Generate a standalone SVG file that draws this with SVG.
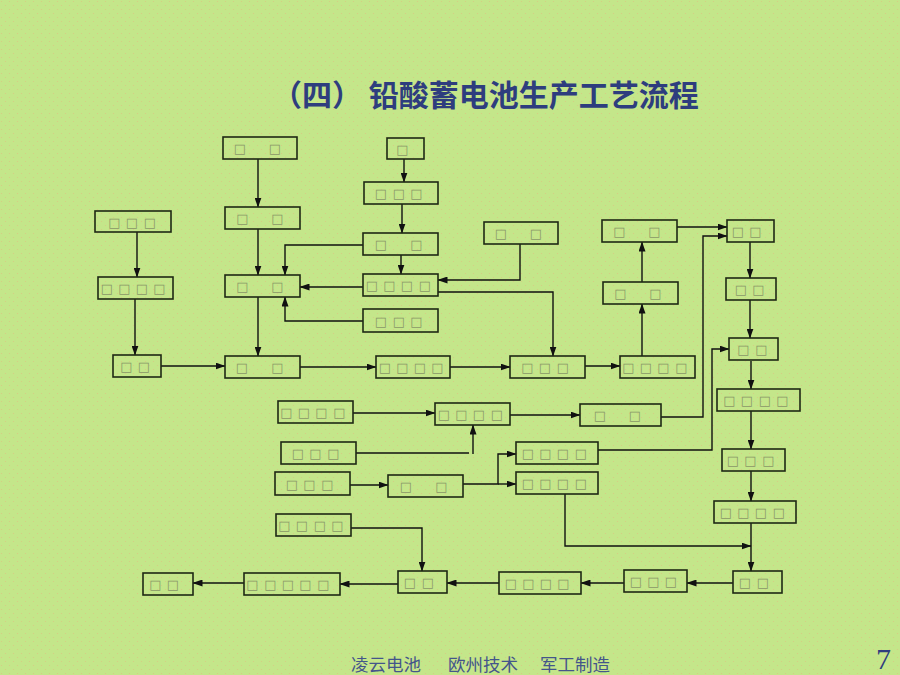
<svg xmlns="http://www.w3.org/2000/svg" width="900" height="675" viewBox="0 0 900 675">
<defs>
<pattern id="dots" width="8" height="8" patternUnits="userSpaceOnUse">
<circle cx="1.5" cy="1.5" r="0.6" fill="#E8B07E" opacity="0.55"/>
<circle cx="5.5" cy="5.5" r="0.6" fill="#E8B07E" opacity="0.55"/>
</pattern>
<marker id="ah" markerUnits="userSpaceOnUse" markerWidth="10" markerHeight="7" refX="9.5" refY="3.5" orient="auto">
<path d="M0,0 L10,3.5 L0,7 Z" fill="#111"/>
</marker>
<style>
.b{fill:none;stroke:#1E2814;stroke-width:1.6}
.q{font-family:"DejaVu Sans",sans-serif;font-size:13px;fill:#8A9868;text-anchor:middle}
.c{fill:none;stroke:#111;stroke-width:1.4}
.c path.a{marker-end:url(#ah)}
.title{font-family:"Noto Sans CJK SC",sans-serif;font-size:30px;font-weight:bold;fill:#2E3D7E}
.foot{font-family:"Noto Sans CJK SC",sans-serif;font-size:17.5px;fill:#44558A}
.num{font-family:"Liberation Serif",serif;font-size:30px;fill:#2E3D7E}
</style>
</defs>
<rect width="900" height="675" fill="#C4E68A"/>
<rect width="900" height="675" fill="url(#dots)"/>

<text class="title" x="272" y="106">（四） 铅酸蓄电池生产工艺流程</text>

<g id="connectors" class="c">
<path class="a" d="M258,159 V207"/>
<path class="a" d="M404,159 V182"/>
<path class="a" d="M402,204 V233"/>
<path class="a" d="M401,255 V274"/>
<path class="a" d="M363,245 H285 V275"/>
<path class="a" d="M363,287 H300"/>
<path class="a" d="M363,321 H285 V297"/>
<path class="a" d="M258,229 V275"/>
<path class="a" d="M137,232 V277"/>
<path class="a" d="M135,299 V355"/>
<path class="a" d="M258,297 V356"/>
<path class="a" d="M161,366 H225"/>
<path class="a" d="M300,367 H376"/>
<path class="a" d="M520,244 V280 H438"/>
<path class="a" d="M438,292 H553 V356"/>
<path class="a" d="M450,367 H510"/>
<path class="a" d="M585,366 H620"/>
<path class="a" d="M642,356 V304"/>
<path class="a" d="M642,282 V242"/>
<path class="a" d="M677,227 H727"/>
<path class="a" d="M661,417 H703 V236 H727"/>
<path class="a" d="M750,242 V278"/>
<path class="a" d="M750,300 V338"/>
<path class="a" d="M598,450 H712 V349 H729"/>
<path class="a" d="M751,361 V389"/>
<path class="a" d="M751,411 V449"/>
<path class="a" d="M751,471 V501"/>
<path class="a" d="M751,523 V571"/>
<path class="a" d="M565,494 V546 H751"/>
<path class="a" d="M733,583 H687"/>
<path class="a" d="M624,583 H581"/>
<path class="a" d="M499,583 H447"/>
<path class="a" d="M398,584 H340"/>
<path class="a" d="M244,583 H193"/>
<path class="a" d="M351,528 H422 V571"/>
<path class="a" d="M353,413 H435"/>
<path class="a" d="M510,415 H580"/>
<path d="M356,453 H469"/>
<path class="a" d="M473,454 V425"/>
<path class="a" d="M350,485 H388"/>
<path class="a" d="M463,484 H498 V454 H516"/>
<path class="a" d="M498,484 H516"/>
</g>

<g id="n-A"><rect class="b" x="223" y="137" width="74" height="22"/><text class="q" x="240 275" y="153">□□</text></g>
<g id="n-B"><rect class="b" x="387" y="138" width="37" height="21"/><text class="q" x="402.5" y="153.5">□</text></g>
<g id="n-C"><rect class="b" x="364" y="182" width="74" height="22"/><text class="q" x="381 399 416.5" y="198">□□□</text></g>
<g id="n-D"><rect class="b" x="225" y="207" width="75" height="22"/><text class="q" x="242.5 277.5" y="223">□□</text></g>
<g id="n-E"><rect class="b" x="95" y="211" width="76" height="21"/><text class="q" x="114.5 132 150" y="226.5">□□□</text></g>
<g id="n-F"><rect class="b" x="363" y="233" width="75" height="22"/><text class="q" x="381 416.5" y="249">□□</text></g>
<g id="n-G"><rect class="b" x="484" y="222" width="74" height="22"/><text class="q" x="501 536" y="238">□□</text></g>
<g id="n-H"><rect class="b" x="602" y="220" width="75" height="22"/><text class="q" x="619.5 654.5" y="236">□□</text></g>
<g id="n-I"><rect class="b" x="727" y="220" width="47" height="22"/><text class="q" x="738 755.5" y="236">□□</text></g>
<g id="n-J"><rect class="b" x="98" y="277" width="75" height="22"/><text class="q" x="107 124.5 142 159.5" y="293">□□□□</text></g>
<g id="n-K"><rect class="b" x="225" y="275" width="75" height="22"/><text class="q" x="242.5 277.5" y="291">□□</text></g>
<g id="n-L"><rect class="b" x="363" y="274" width="75" height="22"/><text class="q" x="372 389.5 407 425" y="290">□□□□</text></g>
<g id="n-M"><rect class="b" x="363" y="309" width="75" height="23"/><text class="q" x="381 399 416.5" y="325.5">□□□</text></g>
<g id="n-N"><rect class="b" x="603" y="282" width="75" height="22"/><text class="q" x="620.5 655.5" y="298">□□</text></g>
<g id="n-O"><rect class="b" x="726" y="278" width="50" height="22"/><text class="q" x="741 758.5" y="294">□□</text></g>
<g id="n-P"><rect class="b" x="113" y="355" width="48" height="22"/><text class="q" x="126.5 144" y="371">□□</text></g>
<g id="n-Q"><rect class="b" x="225" y="356" width="75" height="22"/><text class="q" x="242 277.5" y="372">□□</text></g>
<g id="n-R"><rect class="b" x="376" y="356" width="74" height="22"/><text class="q" x="385 402.5 420 437.5" y="372">□□□□</text></g>
<g id="n-S"><rect class="b" x="510" y="356" width="75" height="22"/><text class="q" x="527.5 545 563" y="372">□□□</text></g>
<g id="n-T"><rect class="b" x="620" y="356" width="75" height="22"/><text class="q" x="628.5 646 663.5 681.5" y="372">□□□□</text></g>
<g id="n-U"><rect class="b" x="729" y="338" width="49" height="22"/><text class="q" x="743.5 761.5" y="354">□□</text></g>
<g id="n-V"><rect class="b" x="278" y="401" width="75" height="22"/><text class="q" x="286.5 304 321.5 339.5" y="417">□□□□</text></g>
<g id="n-W"><rect class="b" x="435" y="403" width="75" height="22"/><text class="q" x="444 461.5 479 497" y="419">□□□□</text></g>
<g id="n-X"><rect class="b" x="580" y="404" width="81" height="22"/><text class="q" x="600 635" y="420">□□</text></g>
<g id="n-Y"><rect class="b" x="717" y="389" width="83" height="22"/><text class="q" x="729.5 747 765 782.5" y="405">□□□□</text></g>
<g id="n-Z"><rect class="b" x="281" y="442" width="75" height="22"/><text class="q" x="298 315.5 333.5" y="458">□□□</text></g>
<g id="n-AA"><rect class="b" x="516" y="442" width="82" height="22"/><text class="q" x="528 545.5 563 581" y="458">□□□□</text></g>
<g id="n-AB"><rect class="b" x="722" y="449" width="63" height="22"/><text class="q" x="733 750.5 768.5" y="465">□□□</text></g>
<g id="n-AC"><rect class="b" x="275" y="472" width="75" height="23"/><text class="q" x="292 309.5 327.5" y="488.5">□□□</text></g>
<g id="n-AD"><rect class="b" x="388" y="475" width="75" height="22"/><text class="q" x="406 441.5" y="491">□□</text></g>
<g id="n-AE"><rect class="b" x="516" y="472" width="82" height="22"/><text class="q" x="528 545.5 563 581" y="488">□□□□</text></g>
<g id="n-AF"><rect class="b" x="714" y="501" width="82" height="22"/><text class="q" x="726 743.5 761 779" y="517">□□□□</text></g>
<g id="n-AG"><rect class="b" x="276" y="514" width="75" height="22"/><text class="q" x="284.5 302 320 337.5" y="530">□□□□</text></g>
<g id="n-AH"><rect class="b" x="143" y="573" width="50" height="22"/><text class="q" x="155.5 173" y="589">□□</text></g>
<g id="n-AI"><rect class="b" x="244" y="573" width="96" height="22"/><text class="q" x="252.5 270.5 288 305.5 323.5" y="589">□□□□□</text></g>
<g id="n-AJ"><rect class="b" x="398" y="571" width="49" height="22"/><text class="q" x="410 428" y="587">□□</text></g>
<g id="n-AK"><rect class="b" x="499" y="572" width="82" height="22"/><text class="q" x="511 528.5 546 563.5" y="588">□□□□</text></g>
<g id="n-AL"><rect class="b" x="624" y="570" width="63" height="22"/><text class="q" x="636 653.5 671" y="586">□□□</text></g>
<g id="n-AM"><rect class="b" x="733" y="571" width="49" height="22"/><text class="q" x="745 763" y="587">□□</text></g>

<text class="foot" y="671"><tspan x="351">凌云电池</tspan><tspan x="448">欧州技术</tspan><tspan x="540">军工制造</tspan></text>
<text class="num" x="876" y="669">7</text>
</svg>
